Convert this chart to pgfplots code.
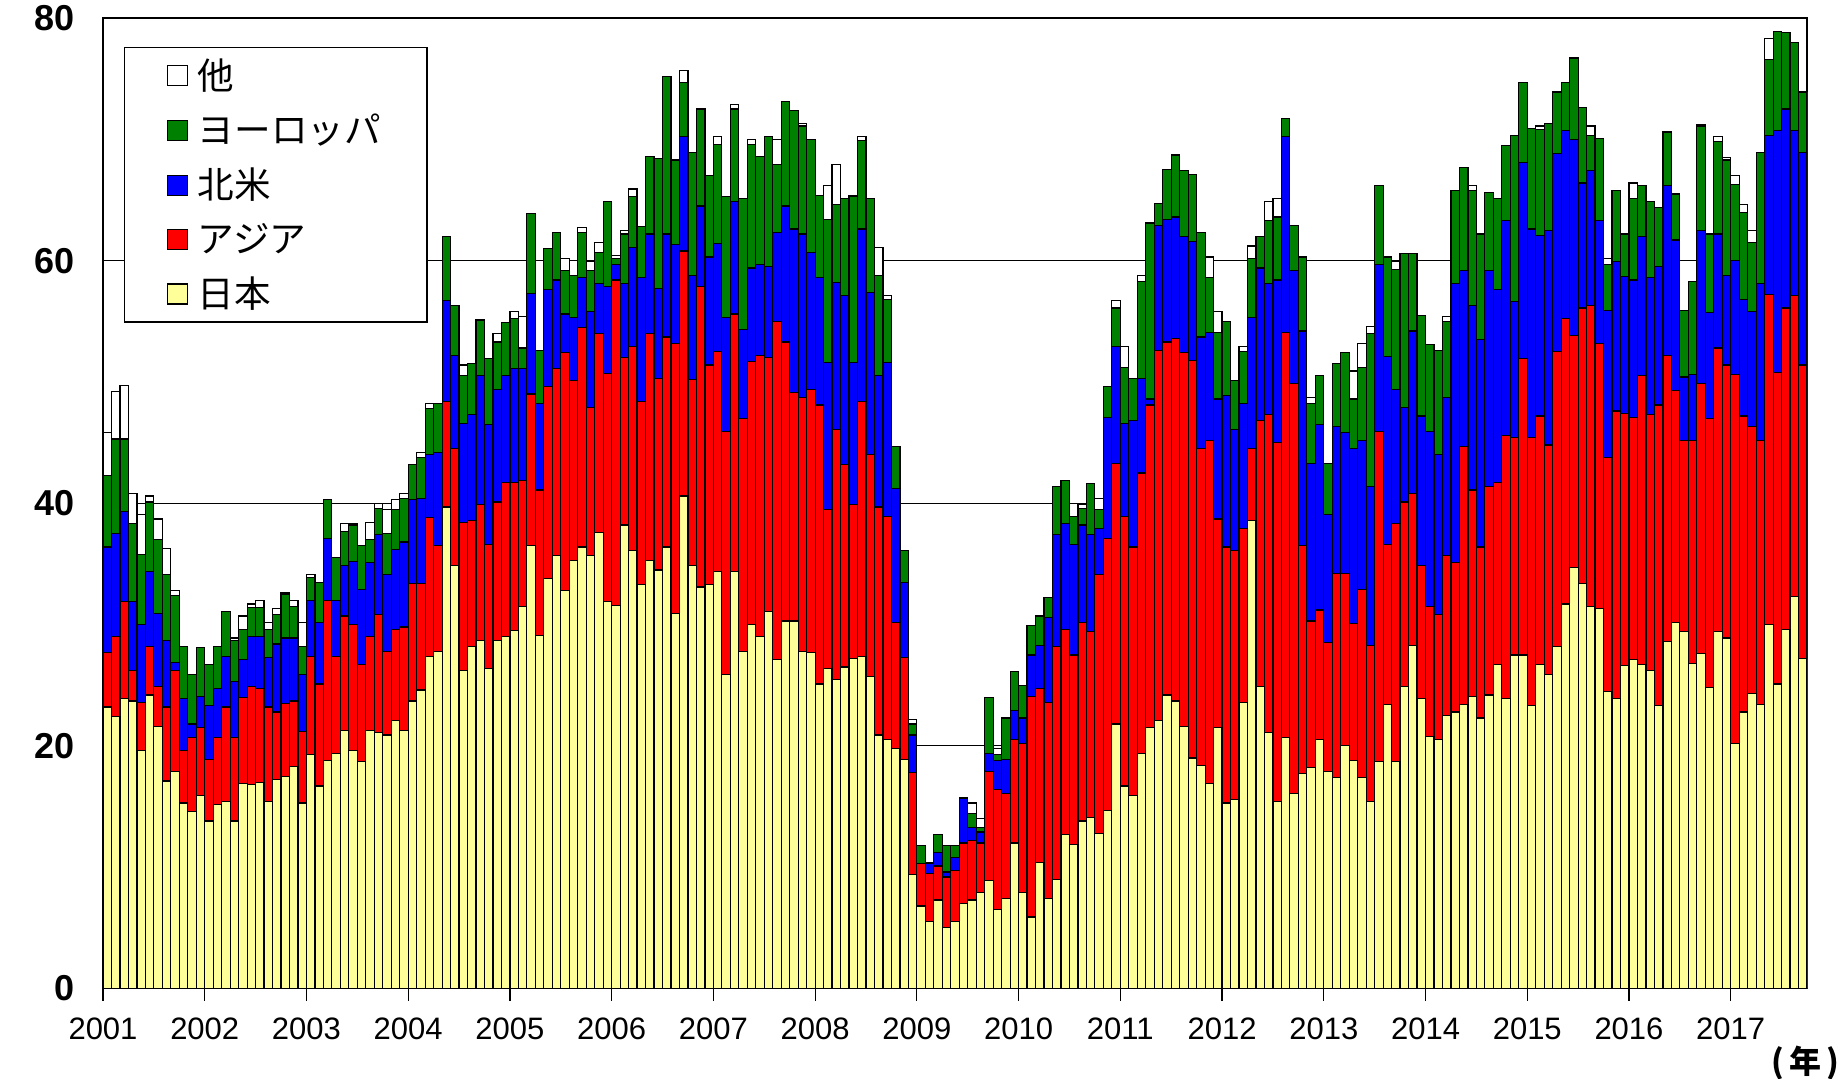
\documentclass[border=0pt]{standalone}
\usepackage{fontspec}
\setmainfont{Liberation Sans}
\newfontfamily\cjkfont{Noto Sans CJK JP}
\usepackage{pgfplots}
\usepackage{pgfplotstable}
\pgfplotsset{compat=1.18}

\definecolor{jpcol}{RGB}{255,255,153}
\definecolor{asiacol}{RGB}{255,0,0}
\definecolor{nacol}{RGB}{0,0,255}
\definecolor{eucol}{RGB}{0,128,0}

% cumulative top of each segment, monthly, Jan 2001 (m=0) .. Sep 2017 (m=200)
% jp = 日本, asia = +アジア, na = +北米, eu = +ヨーロッパ, tot = +他
\pgfplotstableread{
m jp asia na eu tot
0 23.2 27.7 36.4 42.3 45.8
1 22.4 29.0 37.5 45.3 49.2
2 23.9 31.9 39.3 45.3 49.7
3 23.7 26.2 31.9 38.3 40.8
4 19.6 23.6 30.0 35.8 39.1
5 24.2 28.2 34.4 40.1 40.6
6 21.6 24.9 30.9 37.0 38.7
7 17.1 23.2 28.7 34.1 36.3
8 17.9 26.2 26.9 32.4 32.8
9 15.3 19.6 23.9 28.2 28.2
10 14.6 20.7 21.8 25.9 25.9
11 15.9 21.5 24.1 28.1 28.1
12 13.8 18.9 23.3 26.7 26.7
13 15.2 20.7 24.7 28.2 28.2
14 15.4 23.2 27.4 31.1 31.1
15 13.8 20.7 25.3 28.7 28.9
16 16.9 24.0 27.1 29.6 30.7
17 16.8 24.9 29.0 31.4 31.7
18 17.0 24.7 29.0 31.4 32.0
19 15.4 23.2 27.3 29.6 30.2
20 17.2 22.8 28.4 30.8 31.3
21 17.5 23.5 28.9 32.5 32.6
22 18.3 23.7 28.9 31.5 32.0
23 15.3 21.2 25.9 28.2 30.2
24 19.3 27.4 32.0 33.9 34.1
25 16.7 25.1 30.2 33.5 33.5
26 18.8 32.0 37.1 40.3 40.3
27 19.4 27.4 32.0 35.5 35.5
28 21.3 30.7 34.9 37.7 38.3
29 19.6 30.0 35.2 38.2 38.3
30 18.7 26.7 32.9 36.5 36.5
31 21.3 29.0 35.1 37.0 38.4
32 21.1 30.8 37.4 39.6 40.0
33 20.9 27.8 34.1 37.5 39.5
34 22.1 29.6 36.2 39.5 40.3
35 21.3 29.8 36.8 40.4 40.8
36 23.7 33.4 40.3 43.2 43.2
37 24.6 33.4 40.4 43.8 44.2
38 27.4 38.8 44.0 47.8 48.2
39 27.8 36.5 44.2 48.2 48.2
40 39.7 48.4 56.7 62.0 62.0
41 34.9 44.5 52.2 56.3 56.3
42 26.2 38.4 46.6 50.5 51.4
43 28.2 38.6 47.3 51.5 51.5
44 28.7 39.9 50.5 55.1 55.1
45 26.4 36.6 46.5 51.9 51.9
46 28.7 40.1 49.4 53.3 54.0
47 29.0 41.7 50.5 54.9 54.9
48 29.5 41.7 51.1 55.2 55.8
49 31.5 41.9 51.1 52.8 55.4
50 36.5 49.0 57.3 63.9 63.9
51 29.1 41.1 48.2 52.6 52.6
52 33.8 49.6 57.6 61.0 61.0
53 35.7 51.1 58.4 62.3 62.3
54 32.8 52.4 55.6 59.2 60.2
55 35.3 50.1 55.3 58.8 58.8
56 36.4 54.5 58.6 62.3 62.7
57 35.7 47.9 55.8 59.2 59.9
58 37.6 54.0 58.1 60.7 61.5
59 31.9 50.7 57.9 64.9 64.9
60 31.6 58.4 59.7 60.2 60.4
61 38.2 52.0 58.1 62.2 62.5
62 36.1 52.9 61.1 65.3 65.9
63 33.3 48.4 58.6 62.8 62.8
64 35.3 54.0 62.2 68.6 68.6
65 34.5 50.3 57.7 68.4 68.4
66 36.4 53.7 62.2 75.2 75.2
67 30.9 53.2 61.3 68.3 68.3
68 40.6 60.8 70.2 74.7 75.7
69 34.9 50.2 58.8 68.9 68.9
70 33.1 57.9 64.5 72.5 72.5
71 33.3 51.4 60.3 67.0 67.0
72 34.4 52.5 61.4 69.6 70.2
73 25.9 45.9 55.3 65.3 65.3
74 34.4 55.6 64.9 72.5 72.9
75 27.8 47.0 54.3 65.1 65.1
76 30.0 51.7 59.4 69.6 70.0
77 29.0 52.2 59.7 68.6 68.6
78 31.1 52.0 59.5 70.2 70.2
79 27.1 55.0 62.3 67.9 70.0
80 30.3 53.3 64.5 73.1 73.1
81 30.3 49.1 62.6 72.4 72.4
82 27.8 48.7 62.2 71.1 71.3
83 27.7 49.4 60.7 70.0 70.0
84 25.1 48.1 58.6 65.4 65.4
85 26.4 39.5 51.6 63.4 66.2
86 25.5 46.1 58.2 64.6 67.9
87 26.5 43.2 57.1 65.1 65.1
88 27.2 39.9 51.6 65.3 65.4
89 27.4 48.4 62.6 69.9 70.2
90 25.7 44.0 57.4 65.1 65.1
91 20.9 39.7 50.5 58.8 61.1
92 20.5 38.9 51.6 56.8 57.1
93 19.8 30.2 41.2 44.7 44.7
94 18.9 27.3 33.5 36.1 36.1
95 9.4 17.8 20.9 21.8 22.2
96 6.8 10.3 10.3 11.8 11.8
97 5.5 9.5 10.3 10.4 10.4
98 7.3 10.1 11.2 12.7 12.7
99 5.0 9.2 9.6 11.8 11.8
100 5.5 9.7 10.8 11.8 11.8
101 7.0 12.0 15.7 15.7 15.7
102 7.3 12.2 13.3 14.4 15.3
103 7.9 12.0 12.9 13.3 14.0
104 8.9 17.9 19.4 24.0 24.0
105 6.5 16.4 18.8 19.3 19.8
106 7.4 16.1 18.9 22.3 22.3
107 12.0 20.5 22.9 26.1 26.1
108 7.9 20.2 22.3 25.0 25.0
109 5.9 24.1 27.5 29.9 29.9
110 10.4 24.7 28.3 30.7 30.7
111 7.4 23.6 30.6 32.2 32.2
112 9.0 28.2 37.4 41.4 41.4
113 12.7 29.6 38.3 41.9 41.9
114 11.9 27.5 36.6 38.9 40.0
115 13.8 30.2 38.2 39.6 39.9
116 14.1 29.4 37.4 41.6 41.6
117 12.8 34.1 37.9 39.5 40.4
118 14.7 37.1 47.1 49.6 49.6
119 21.8 43.3 52.9 56.1 56.7
120 16.7 38.9 46.6 51.2 52.9
121 15.9 36.4 46.8 50.3 50.3
122 19.4 42.5 50.3 58.3 58.8
123 21.5 48.1 48.6 63.1 63.1
124 22.1 52.6 62.9 64.7 64.7
125 24.2 53.3 63.4 67.5 67.5
126 23.7 53.6 63.6 68.7 68.7
127 21.6 52.4 62.0 67.4 67.4
128 19.0 51.8 61.6 67.1 67.1
129 18.4 44.5 53.7 62.3 62.3
130 16.9 45.2 54.1 58.6 60.3
131 21.5 38.7 48.6 54.1 55.8
132 15.3 36.4 48.9 55.0 55.0
133 15.6 36.1 46.1 50.1 50.1
134 23.6 37.9 48.2 52.5 52.9
135 38.6 44.5 55.3 60.2 61.2
136 24.9 46.8 59.4 62.0 62.0
137 21.1 47.3 58.1 63.3 64.9
138 15.4 45.0 58.4 63.6 65.1
139 20.7 54.1 70.2 71.7 71.7
140 16.1 49.9 59.2 62.9 62.9
141 17.7 36.5 54.2 60.3 60.3
142 18.2 30.3 43.3 48.2 48.7
143 20.5 31.2 46.5 50.5 50.5
144 17.9 28.5 39.1 43.3 43.3
145 17.4 34.2 46.3 51.5 51.5
146 20.0 34.2 45.8 52.4 52.4
147 18.8 30.1 44.5 48.6 50.9
148 17.4 32.9 45.2 51.2 53.2
149 15.4 28.3 41.4 54.0 54.6
150 18.7 45.9 59.7 66.2 66.2
151 23.4 36.6 52.1 60.3 60.3
152 18.7 38.3 49.4 59.3 59.9
153 24.9 40.1 47.9 60.6 60.6
154 28.3 40.8 54.2 60.6 60.6
155 23.9 34.9 47.2 55.5 55.5
156 20.8 31.5 45.9 53.1 53.1
157 20.5 30.8 44.0 52.6 52.6
158 22.5 35.7 48.7 55.0 55.4
159 22.8 35.1 58.1 65.8 65.8
160 23.4 44.7 59.2 67.7 67.7
161 24.1 41.1 56.3 65.8 66.2
162 22.3 36.4 53.5 62.2 62.2
163 24.2 41.4 59.2 65.6 65.6
164 26.7 41.7 57.6 65.1 65.1
165 23.9 45.6 63.3 69.5 69.5
166 27.5 45.4 56.6 70.3 70.3
167 27.5 51.9 68.1 74.7 74.7
168 23.3 45.4 62.6 70.9 70.9
169 26.7 47.2 62.1 70.8 71.1
170 25.9 44.8 62.5 71.3 71.3
171 28.2 52.5 68.8 73.9 73.9
172 31.7 55.2 70.7 74.7 74.7
173 34.7 53.8 70.0 76.7 76.7
174 33.4 56.1 66.4 72.6 72.6
175 31.5 56.3 67.4 70.3 71.1
176 31.3 53.2 63.3 70.1 70.1
177 24.5 43.8 55.9 59.7 60.2
178 23.9 47.6 59.9 65.8 65.8
179 26.6 47.4 58.7 62.2 62.2
180 27.1 47.1 58.4 65.1 66.4
181 26.7 50.5 62.0 66.2 66.2
182 26.2 47.3 58.6 64.9 64.9
183 23.3 48.1 59.5 64.4 64.4
184 28.6 52.2 66.2 70.6 70.6
185 30.2 49.3 61.7 65.5 65.5
186 29.4 45.2 50.4 55.9 55.9
187 26.8 45.2 50.6 58.3 58.3
188 27.6 49.9 62.5 71.1 71.2
189 24.8 47.0 55.7 62.2 62.2
190 29.4 52.8 62.2 69.8 70.2
191 28.9 51.4 58.8 68.3 68.5
192 20.2 50.6 60.0 66.3 67.0
193 22.8 47.2 56.8 64.0 64.6
194 24.3 46.3 55.8 61.5 62.5
195 23.4 45.2 58.1 68.9 68.9
196 30.0 57.2 70.3 76.6 78.3
197 25.1 50.8 70.7 78.9 78.9
198 29.6 56.1 72.5 78.8 78.8
199 32.3 57.1 70.7 78.0 78.0
200 27.2 51.4 68.9 73.9 73.9
}\exports

\pgfplotsset{
  mbar/.style={ybar, bar width=1, bar shift=0pt, draw=black, line width=0.6pt,
    legend image code/.code={\draw[##1, line width=0.6pt] (0pt,-5pt) rectangle (10pt,5pt);}},
}

\begin{document}
\begin{tikzpicture}
\begin{axis}[
  at={(0,0)}, anchor=south west,
  scale only axis, width=852pt, height=485.25pt,
  set layers,
  xmin=-0.5, xmax=200.5, ymin=0, ymax=80,
  xtick={-0.5,11.5,...,191.5},
  xticklabels={2001,2002,2003,2004,2005,2006,2007,2008,2009,2010,2011,2012,2013,2014,2015,2016,2017},
  ytick={0,20,40,60,80},
  yticklabels={0,20,40,60,80},
  xtick pos=bottom, ytick pos=left,
  major tick length=6pt,
  tick style={black, line width=0.6pt, /pgfplots/on layer=axis foreground},
  every major x tick/.append style={yshift=-6pt},
  axis line style={line width=0.8pt},
  ymajorgrids, grid style={black, line width=0.5pt},
  xticklabel style={font=\fontsize{15.5}{17}\selectfont, inner sep=0pt, anchor=center, yshift=-20.25pt},
  yticklabel style={font=\bfseries\fontsize{18}{20}\selectfont, inner sep=0pt, anchor=east, xshift=-14pt},
  /pgf/number format/assume math mode=true,
  legend style={at={(0.01232,0.9701)}, anchor=north west, draw=black, line width=0.7pt,
    fill=white, font=\cjkfont\fontsize{18.3}{21}\selectfont,
    inner xsep=21pt, inner ysep=3.5pt, row sep=6.8pt, column sep=3pt},
  legend cell align=left,
]
\addplot[mbar, fill=white] table[x=m, y=tot] {\exports};
\addlegendentry{他}
\addplot[mbar, fill=eucol] table[x=m, y=eu] {\exports};
\addlegendentry{ヨーロッパ}
\addplot[mbar, fill=nacol] table[x=m, y=na] {\exports};
\addlegendentry{北米}
\addplot[mbar, fill=asiacol] table[x=m, y=asia] {\exports};
\addlegendentry{アジア}
\addplot[mbar, fill=jpcol] table[x=m, y=jp] {\exports};
\addlegendentry{日本}
\end{axis}
\node[font=\cjkfont\bfseries\fontsize{16}{18}\selectfont, inner sep=0pt] at (851pt,-37.25pt) {(\hspace{2.5pt}年\hspace{2.5pt})};
\pgfresetboundingbox
\useasboundingbox (-51.5pt,-44.75pt) rectangle (868.5pt,494.25pt);
\end{tikzpicture}
\end{document}
